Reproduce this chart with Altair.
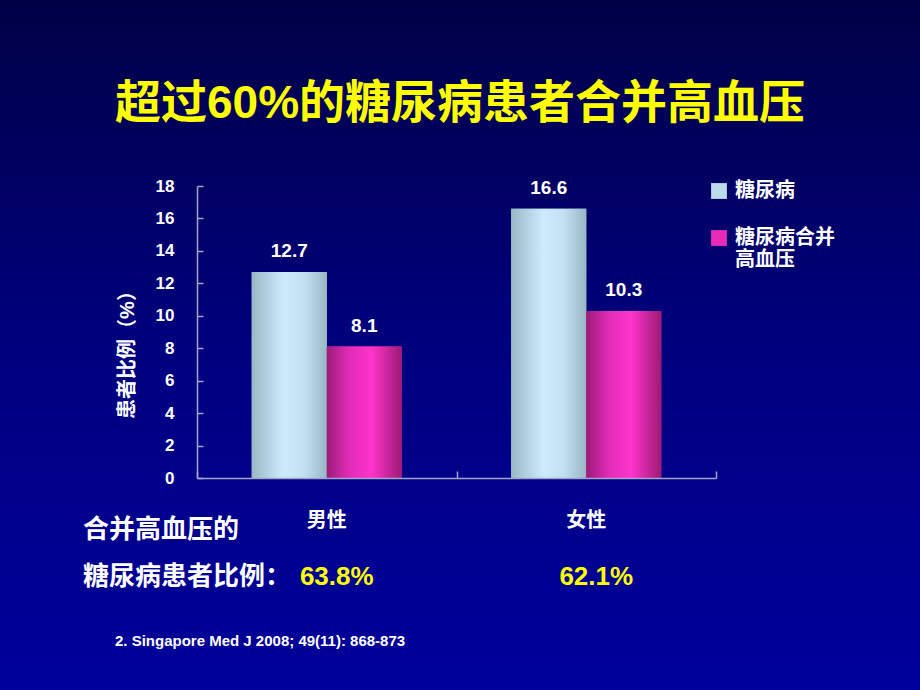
import altair as alt
import pandas as pd

# ---------------- data ----------------
groups = ["男性", "女性"]
series = ["糖尿病", "糖尿病合并高血压"]
diabetes = [12.7, 16.6]
diabetes_htn = [8.1, 10.3]
htn_share = ["63.8%", "62.1%"]
y_ticks = [0, 2, 4, 6, 8, 10, 12, 14, 16, 18]

title_text = "超过60%的糖尿病患者合并高血压"
y_title = "患者比例（%）"
note_line1 = "合并高血压的"
note_line2 = "糖尿病患者比例："
citation = "2. Singapore Med J 2008; 49(11): 868-873"

rows = []
for g, a, b in zip(groups, diabetes, diabetes_htn):
    rows.append({"group": g, "series": series[0], "value": a})
    rows.append({"group": g, "series": series[1], "value": b})
df = pd.DataFrame(rows)
pct_df = pd.DataFrame({"group": groups, "pct": htn_share})
one = pd.DataFrame({"k": [0]})

# ---------------- layout ----------------
FONT = "Liberation Sans, Noto Sans CJK SC"
W, H = 519, 292          # plot area
L, T = 197, 186          # plot origin on the 920x690 page
AXIS_COLOR = "#a4a4c8"

x_scale = alt.Scale(domain=groups, paddingInner=0, paddingOuter=0)
xo_scale = alt.Scale(domain=series, paddingInner=0, paddingOuter=0.73)
y_scale = alt.Scale(domain=[0, 18], nice=False, zero=True)

blue_grad = alt.LinearGradient(
    gradient="linear", x1=0, x2=1, y1=0, y2=0,
    stops=[alt.GradientStop(offset=0, color="#98b8c6"),
           alt.GradientStop(offset=0.42, color="#cdebfb"),
           alt.GradientStop(offset=0.7, color="#c2e0f0"),
           alt.GradientStop(offset=1, color="#98b6c4")])
mag_grad = alt.LinearGradient(
    gradient="linear", x1=0, x2=1, y1=0, y2=0,
    stops=[alt.GradientStop(offset=0, color="#9a1c78"),
           alt.GradientStop(offset=0.3, color="#e22cb8"),
           alt.GradientStop(offset=0.6, color="#ff34cc"),
           alt.GradientStop(offset=1, color="#9c1a74")])
bg_grad = alt.LinearGradient(
    gradient="linear", x1=0, x2=0, y1=0, y2=1,
    stops=[alt.GradientStop(offset=0, color="#000046"),
           alt.GradientStop(offset=0.5, color="#00007e"),
           alt.GradientStop(offset=1, color="#00009c")])

# background
bg = alt.Chart(one).mark_rect(fill=bg_grad).encode(
    x=alt.value(-L), x2=alt.value(920 - L),
    y=alt.value(-T), y2=alt.value(690 - T))

X_NOAXIS = alt.X("group:N", scale=x_scale, sort=groups, axis=None)
Y_NOAXIS = alt.Y("value:Q", scale=y_scale, axis=None)
XO = alt.XOffset("series:N", scale=xo_scale, sort=series)

# main axes + legend (solid colour bars underneath the gradient ones)
legend_bars = alt.Chart(df).mark_bar().encode(
    x=alt.X("group:N", scale=x_scale, sort=groups, title=None,
            axis=alt.Axis(labelFont=FONT, labelFontSize=20, labelFontWeight="bold",
                          labelColor="white", labelAngle=0, labelPadding=32,
                          ticks=False, domainColor=AXIS_COLOR, domainWidth=1.5,
                          zindex=1)),
    xOffset=XO,
    y=alt.Y("value:Q", scale=y_scale, title=None,
            axis=alt.Axis(values=y_ticks, labelFont=FONT, labelFontSize=17,
                          labelFontWeight="bold", labelColor="white", labelPadding=23,
                          ticks=False, grid=False, domainColor=AXIS_COLOR, domainWidth=1.5,
                          zindex=1)),
    color=alt.Color("series:N", scale=alt.Scale(domain=series, range=["#bcdcec", "#e82ab8"]),
                    legend=alt.Legend(orient="none", legendX=512, legendY=-5, title=None,
                                      symbolType="square", symbolSize=250, symbolStrokeWidth=0,
                                      labelFont=FONT, labelFontSize=20, labelFontWeight="bold",
                                      labelColor="white", labelOffset=6, rowPadding=27,
                                      labelLimit=300, padding=0,
                                      labelExpr="length(datum.label) > 3 ? [substring(datum.label, 0, 5), substring(datum.label, 5)] : datum.label")),
)

# inner-pointing ticks (axes mirrored onto the plot edges)
tick_layer = alt.Chart(df).mark_bar(opacity=0).encode(
    x=alt.X("group:N", scale=x_scale, sort=groups, title=None,
            axis=alt.Axis(orient="top", offset=-H, labels=False, domain=False,
                          ticks=True, tickBand="extent", tickSize=7,
                          tickColor=AXIS_COLOR, tickWidth=1.5, zindex=1)),
    xOffset=XO,
    y=alt.Y("value:Q", scale=y_scale, title=None,
            axis=alt.Axis(orient="right", offset=-W, values=y_ticks, labels=False,
                          domain=False, ticks=True, tickSize=6, grid=False,
                          tickColor=AXIS_COLOR, tickWidth=1.5, zindex=1)),
)

blue_bars = alt.Chart(df).transform_filter(alt.datum.series == series[0]).mark_bar(
    fill=blue_grad).encode(x=X_NOAXIS, xOffset=XO, y=Y_NOAXIS)
mag_bars = alt.Chart(df).transform_filter(alt.datum.series == series[1]).mark_bar(
    fill=mag_grad).encode(x=X_NOAXIS, xOffset=XO, y=Y_NOAXIS)

value_labels = alt.Chart(df).mark_text(
    font=FONT, fontSize=19, fontWeight="bold", color="white",
    baseline="middle", dy=-21).encode(
    x=X_NOAXIS, xOffset=XO, y=Y_NOAXIS, text=alt.Text("value:Q", format=".1f"))

pct_labels = alt.Chart(pct_df).mark_text(
    font=FONT, fontSize=26, fontWeight="bold", color="#ffff00",
    baseline="middle", dx=10).encode(
    x=X_NOAXIS, y=alt.value(577 - T), text="pct:N")

def static_text(txt, x, y, size, color="white", align="left", angle=0):
    kw = dict(font=FONT, fontSize=size, fontWeight="bold", color=color,
              align=align, baseline="middle")
    if angle:
        kw["angle"] = angle
    return alt.Chart(one).mark_text(**kw).encode(
        x=alt.value(x - L), y=alt.value(y - T), text=alt.value(txt))

title = static_text(title_text, 460, 104, 46, color="#ffff00", align="center")
ytitle = static_text(y_title, 128, 350, 20, align="center", angle=270)
note1 = static_text(note_line1, 83, 530, 26)
note2 = static_text(note_line2, 83, 577, 26)
cite = static_text(citation, 115, 641, 15)

chart = alt.layer(
    bg, legend_bars, tick_layer, blue_bars, mag_bars, value_labels, pct_labels,
    title, ytitle, note1, note2, cite
).resolve_axis(x="independent", y="independent").properties(
    width=W, height=H,
    autosize=alt.AutoSizeParams(type="none"),
    padding={"left": L, "top": T, "right": 920 - L - W, "bottom": 690 - T - H},
    background="#000078",
).configure_view(stroke=None)

chart.save("out.html", embed_options={"renderer": "svg", "actions": False})
